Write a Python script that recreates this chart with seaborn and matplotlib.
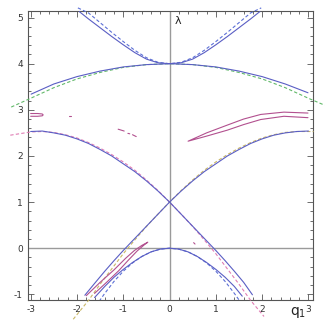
import numpy as np
import pandas as pd
import matplotlib
matplotlib.use('Agg')
import matplotlib.pyplot as plt
from matplotlib.ticker import MultipleLocator
import seaborn as sns

# ---- data (q_1, lambda) ----
# solid characteristic curves
a0_q = [-1.62, -1.4, -1.2, -1.0, -0.8, -0.6, -0.4, -0.2, 0.0, 0.2, 0.4, 0.6, 0.8, 1.0, 1.2, 1.4, 1.57]
a0_l = [-1.07, -0.83, -0.63, -0.46, -0.31, -0.18, -0.08, -0.02, 0.0, -0.02, -0.08, -0.18, -0.31, -0.46, -0.63, -0.83, -1.04]

x1_q = [-1.83, -1.6, -1.4, -1.2, -1.0, -0.8, -0.6, -0.4, -0.2, 0.0,
        0.25, 0.5, 0.75, 1.0, 1.25, 1.5, 1.75, 2.0, 2.25, 2.5, 2.75, 3.0]
x1_l = [-1.02, -0.74, -0.50, -0.27, -0.05, 0.16, 0.37, 0.58, 0.79, 1.0,
        1.24, 1.46, 1.66, 1.83, 2.0, 2.14, 2.27, 2.37, 2.45, 2.50, 2.53, 2.54]
x2_q = [-3.0, -2.75, -2.5, -2.25, -2.0, -1.75, -1.5, -1.25, -1.0, -0.75, -0.5, -0.25, 0.0,
        0.2, 0.4, 0.6, 0.8, 1.0, 1.2, 1.4, 1.6, 1.79]
x2_l = [2.53, 2.54, 2.50, 2.45, 2.37, 2.27, 2.14, 2.0, 1.83, 1.66, 1.46, 1.24, 1.0,
        0.79, 0.58, 0.37, 0.16, -0.05, -0.27, -0.50, -0.74, -1.01]

b2_q = [-2.99, -2.5, -2.0, -1.5, -1.0, -0.5, 0.0, 0.5, 1.0, 1.5, 2.0, 2.5, 2.99]
b2_l = [3.34, 3.56, 3.72, 3.84, 3.93, 3.98, 4.0, 3.98, 3.93, 3.84, 3.72, 3.56, 3.37]

a2_q = [-1.95, -1.75, -1.5, -1.25, -1.0, -0.75, -0.5, -0.25, 0.0, 0.25, 0.5, 0.75, 1.0, 1.25, 1.5, 1.75, 1.95]
a2_l = [5.13, 4.97, 4.78, 4.59, 4.41, 4.24, 4.10, 4.02, 4.0, 4.02, 4.10, 4.24, 4.41, 4.59, 4.78, 4.97, 5.13]

# dashed approximations
a0d_q = [-1.52, -1.4, -1.2, -1.0, -0.8, -0.6, -0.4, -0.2, 0.0, 0.2, 0.4, 0.6, 0.8, 1.0, 1.2, 1.4, 1.52]
a0d_l = [-1.15, -0.98, -0.72, -0.50, -0.32, -0.18, -0.08, -0.02, 0.0, -0.02, -0.08, -0.18, -0.32, -0.50, -0.72, -0.98, -1.15]

a2d_q = [-1.98, -1.75, -1.5, -1.25, -1.0, -0.75, -0.5, -0.25, 0.0, 0.25, 0.5, 0.75, 1.0, 1.25, 1.5, 1.75, 1.98]
a2d_l = [5.21, 5.10, 4.89, 4.68, 4.48, 4.29, 4.13, 4.03, 4.0, 4.03, 4.13, 4.29, 4.48, 4.68, 4.89, 5.10, 5.21]

b2d_q = [-3.42, -3.0, -2.5, -2.0, -1.5, -1.0, -0.5, 0.0, 0.5, 1.0, 1.5, 2.0, 2.5, 3.0, 3.35]
b2d_l = [3.06, 3.25, 3.48, 3.67, 3.81, 3.92, 3.98, 4.0, 3.98, 3.92, 3.81, 3.67, 3.48, 3.25, 3.10]

yel_q = [-2.08, -1.75, -1.5, -1.25, -1.0, -0.75, -0.5, -0.25, 0.0,
         0.25, 0.5, 0.75, 1.0, 1.25, 1.5, 1.75, 2.0, 2.25, 2.5, 2.75, 3.11]
yel_l = [-1.54, -1.13, -0.78, -0.45, -0.12, 0.18, 0.47, 0.74, 1.0,
         1.25, 1.48, 1.69, 1.87, 2.03, 2.17, 2.29, 2.39, 2.46, 2.51, 2.53, 2.53]
pnk_q = [-3.44, -3.0, -2.75, -2.5, -2.25, -2.0, -1.75, -1.5, -1.25, -1.0, -0.75, -0.5, -0.25, 0.0,
         0.25, 0.5, 0.75, 1.0, 1.25, 1.5, 1.75, 2.04]
pnk_l = [2.45, 2.52, 2.53, 2.51, 2.46, 2.39, 2.29, 2.17, 2.03, 1.87, 1.69, 1.48, 1.25, 1.0,
         0.74, 0.47, 0.18, -0.12, -0.45, -0.78, -1.13, -1.48]

# purple (spurious) branches
p1_q = [-1.80, -1.5, -1.2, -0.95, -0.76, -0.6, -0.47, -0.55, -0.7, -0.9, -1.1, -1.35, -1.62]
p1_l = [-1.03, -0.74, -0.47, -0.22, -0.05, 0.06, 0.13, 0.07, -0.06, -0.27, -0.49, -0.73, -0.98]
p2_q = [2.99, 2.47, 1.97, 1.6, 1.25, 0.8, 0.40, 0.8, 1.25, 1.6, 1.97, 2.47, 2.99]
p2_l = [2.93, 2.95, 2.90, 2.80, 2.67, 2.50, 2.32, 2.43, 2.56, 2.68, 2.79, 2.86, 2.83]
p3_q = [-3.0, -2.85, -2.75, -2.73, -2.75, -2.85, -3.0]
p3_l = [2.92, 2.92, 2.91, 2.89, 2.87, 2.86, 2.86]
bits = [([-2.17, -2.12], [2.86, 2.86]),
        ([-1.11, -0.98], [2.58, 2.54]),
        ([-0.90, -0.86], [2.49, 2.48]),
        ([-0.80, -0.72], [2.46, 2.42]),
        ([0.52, 0.55], [0.12, 0.09])]

BLUE = '#5a5ec4'
PURPLE = '#b2508f'
PINK = '#e07db4'
YELLOW = '#c9b766'
GREEN = '#62b96a'
BLUED = '#5b6fd6'

sns.set_style('ticks')
plt.rcParams['font.family'] = ['DejaVu Sans']
plt.rcParams['axes.unicode_minus'] = False

fig = plt.figure(figsize=(3.32, 3.27), dpi=100)
ax = fig.add_axes([0.084, 0.083, 0.859, 0.883])

ax.axhline(0, color='#9a9a9a', lw=1.0, zorder=1)
ax.axvline(0, color='#9a9a9a', lw=1.0, zorder=1)


def line(q, l, color, ls='-', lw=0.8, clip=True):
    sns.lineplot(x=q, y=l, ax=ax, color=color, lw=lw, linestyle=ls,
                 sort=False, estimator=None, clip_on=clip, zorder=3)


# dashed approximations
line(a0d_q, a0d_l, BLUED, ls=(0, (3, 2)))
line(a2d_q, a2d_l, BLUED, ls=(0, (3, 2)), clip=False)
line(b2d_q, b2d_l, GREEN, ls=(0, (3, 2)), clip=False)
line(yel_q, yel_l, YELLOW, ls=(0, (3, 2)), clip=False)
line(pnk_q, pnk_l, PINK, ls=(0, (3, 2)), clip=False)

# solid curves
for q, l in [(a0_q, a0_l), (x1_q, x1_l), (x2_q, x2_l), (b2_q, b2_l), (a2_q, a2_l)]:
    line(q, l, BLUE)

for q, l in [(p1_q, p1_l), (p2_q, p2_l), (p3_q, p3_l)] + bits:
    line(q, l, PURPLE)

ax.set_xlim(-3.06, 3.1)
ax.set_ylim(-1.12, 5.14)
ax.xaxis.set_major_locator(MultipleLocator(1))
ax.xaxis.set_minor_locator(MultipleLocator(0.2))
ax.yaxis.set_major_locator(MultipleLocator(1))
ax.yaxis.set_minor_locator(MultipleLocator(0.2))
ax.tick_params(which='both', direction='in', top=True, right=True,
               colors='#555555', labelcolor='#333333', labelsize=6.5, width=0.6)
ax.tick_params(which='major', length=4)
ax.tick_params(which='minor', length=2)
for s in ax.spines.values():
    s.set_color('#555555')
    s.set_linewidth(0.8)
ax.set_xlabel('')
ax.set_ylabel('')

ax.text(0.1, 4.93, 'λ', fontsize=8, color='#222222', ha='left', va='center')
ax.text(2.78, -1.4, 'q$_1$', fontsize=10, color='#222222', ha='center', va='center',
        clip_on=False)

fig.savefig('out.png', dpi=100)
